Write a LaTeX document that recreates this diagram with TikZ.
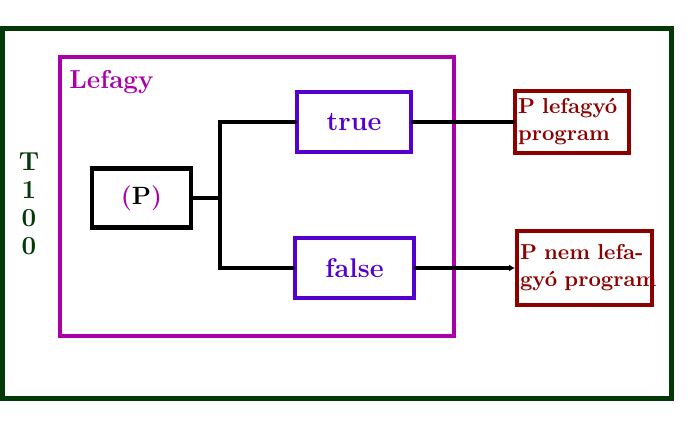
\documentclass[tikz,border=0pt]{standalone}
\usepackage{tikz}
\usetikzlibrary{positioning, calc, arrows.meta}
\definecolor{frameGreen}{RGB}{3,56,8}
\definecolor{boxMagenta}{RGB}{170,0,170}
\definecolor{boxViolet}{RGB}{85,0,204}
\definecolor{boxRed}{RGB}{140,0,0}
\tikzstyle{Wire} = [line width=2pt, line cap=round, black]
\tikzstyle{Choice} = [draw=boxViolet, line width=2pt, text=boxViolet,
minimum height=30pt, font=\fontsize{13.5}{16}\selectfont\bfseries]
\tikzstyle{Result} = [draw=boxRed, line width=2pt, text=boxRed, align=left,
inner sep=1.5pt, font=\fontsize{10.8}{13.5}\selectfont\bfseries]

\begin{document}
\begin{tikzpicture}[x=0.5pt, y=-0.5pt]
    \useasboundingbox (0,0) rectangle (694,430);
    \draw [frameGreen, line width=2.5pt] (2,28) rectangle (671,398);
    \node [align=center, text=frameGreen, inner sep=0pt,
        font=\fontsize{13}{14}\selectfont\bfseries](t100) at (29,204){T\\1\\0\\0};

    \node [draw=boxMagenta, line width=2pt, minimum width=197pt, minimum height=139.5pt,
        inner sep=0pt](lefagy) at (257,196.5){};
    \node [text=boxMagenta, anchor=west, inner sep=0pt,
        font=\fontsize{13}{15}\selectfont\bfseries](title) at (69,82){Lefagy};

    \node [draw, line width=2.3pt, minimum width=49.5pt, minimum height=29.5pt,
        font=\fontsize{12.5}{14}\selectfont\bfseries](p) at (141.5,198){\textcolor{boxMagenta}{(}P\textcolor{boxMagenta}{)}};
    \node [Choice, minimum width=57pt](true) at (354,122){true};
    \node [Choice, minimum width=59.5pt](false) at (354.5,268){false};
    \node [Result, text width=54pt, minimum height=31pt](halts) at (572,122){\mbox{P lefagyó}\\program};
    \node [Result, text width=64.5pt, minimum height=37pt](loops) at (584.5,268){\mbox{P nem lefa-}\\\mbox{gyó program}};
    \coordinate (split) at (220,198);

    \draw [Wire] (p.east) to (split);
    \draw [Wire] (true.west) -| (split) |- (false.west);
    \draw [Wire] (true.east) to (halts.west);
    \draw [Wire, -{Latex[length=3pt, width=3.5pt]}] (false.east) to (loops.west);
\end{tikzpicture}
\end{document}
